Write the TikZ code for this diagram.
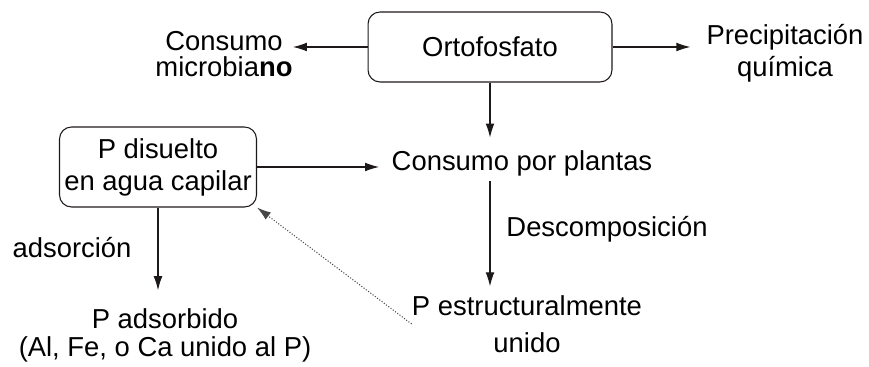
\documentclass[tikz,border=0pt]{standalone}
\usepackage{fontspec}
\setmainfont{Liberation Sans}
\usepackage{tikz}
\usetikzlibrary{arrows.meta, positioning, calc}
\definecolor{flowline}{RGB}{30, 25, 25}
\definecolor{dotline}{RGB}{70, 70, 70}

\begin{document}
\begin{tikzpicture}[
          x=0.02cm, y=-0.02cm,
          lbl/.style={inner sep=0pt, align=center,
                      font=\fontsize{15.6}{20}\selectfont},
          bx/.style={lbl, draw=flowline, rounded corners=0.24cm,
                     line width=0.6pt},
          arr/.style={-{Latex[length=8pt, width=5pt]},
                      line width=0.6pt, color=flowline},
      ]
      \useasboundingbox (0, 0) rectangle (869, 367);
      \node[bx, minimum width=4.88cm, minimum height=1.4cm] (orto)
          at (490, 47) {Ortofosfato};
      \node[lbl, font=\fontsize{15.6}{14.8}\selectfont] (micro)
          at (224, 54) {Consumo\\microbia\textbf{no}};
      \node[lbl, font=\fontsize{15.6}{18.2}\selectfont] (prec)
          at (785, 53) {Precipitación\\química};
      \node[bx, minimum width=3.94cm, minimum height=1.6cm,
            font=\fontsize{15.6}{18.2}\selectfont] (disuelto)
          at (158, 167) {P disuelto\\en agua capilar};
      \node[lbl] (plantas) at (522, 163) {Consumo por plantas};
      \node[lbl] (desc) at (607, 229) {Descomposición};
      \node[lbl, font=\fontsize{15.6}{21}\selectfont] (estr)
          at (527, 324) {P estructuralmente\\unido};
      \node[lbl] (ads) at (72, 248) {adsorción};
      \node[lbl, font=\fontsize{15.6}{16}\selectfont] (adsorbido)
          at (165, 335) {P adsorbido\\(Al, Fe, o Ca unido al P)};
      \draw[arr] (orto.west) -- (orto.west -| micro.east);
      \draw[arr, shorten >=15\pgflinewidth] (orto.east) --
          (orto.east -| prec.west);
      \draw[arr, shorten >=7pt] (orto.south) --
          (orto.south |- plantas.north);
      \draw[arr, shorten >=7pt] (disuelto.east) --
          (disuelto.east -| plantas.west);
      \draw[arr, shorten <=3pt, shorten >=5pt]
          (orto.south |- plantas.south) -- (orto.south |- estr.north);
      \draw[arr, shorten >=10pt] (disuelto.south) --
          (disuelto.south |- adsorbido.north);
      \draw[arr, densely dotted, color=dotline, line width=0.6pt]
          (estr.west) -- (disuelto.south east);
      \end{tikzpicture}
\end{document}
